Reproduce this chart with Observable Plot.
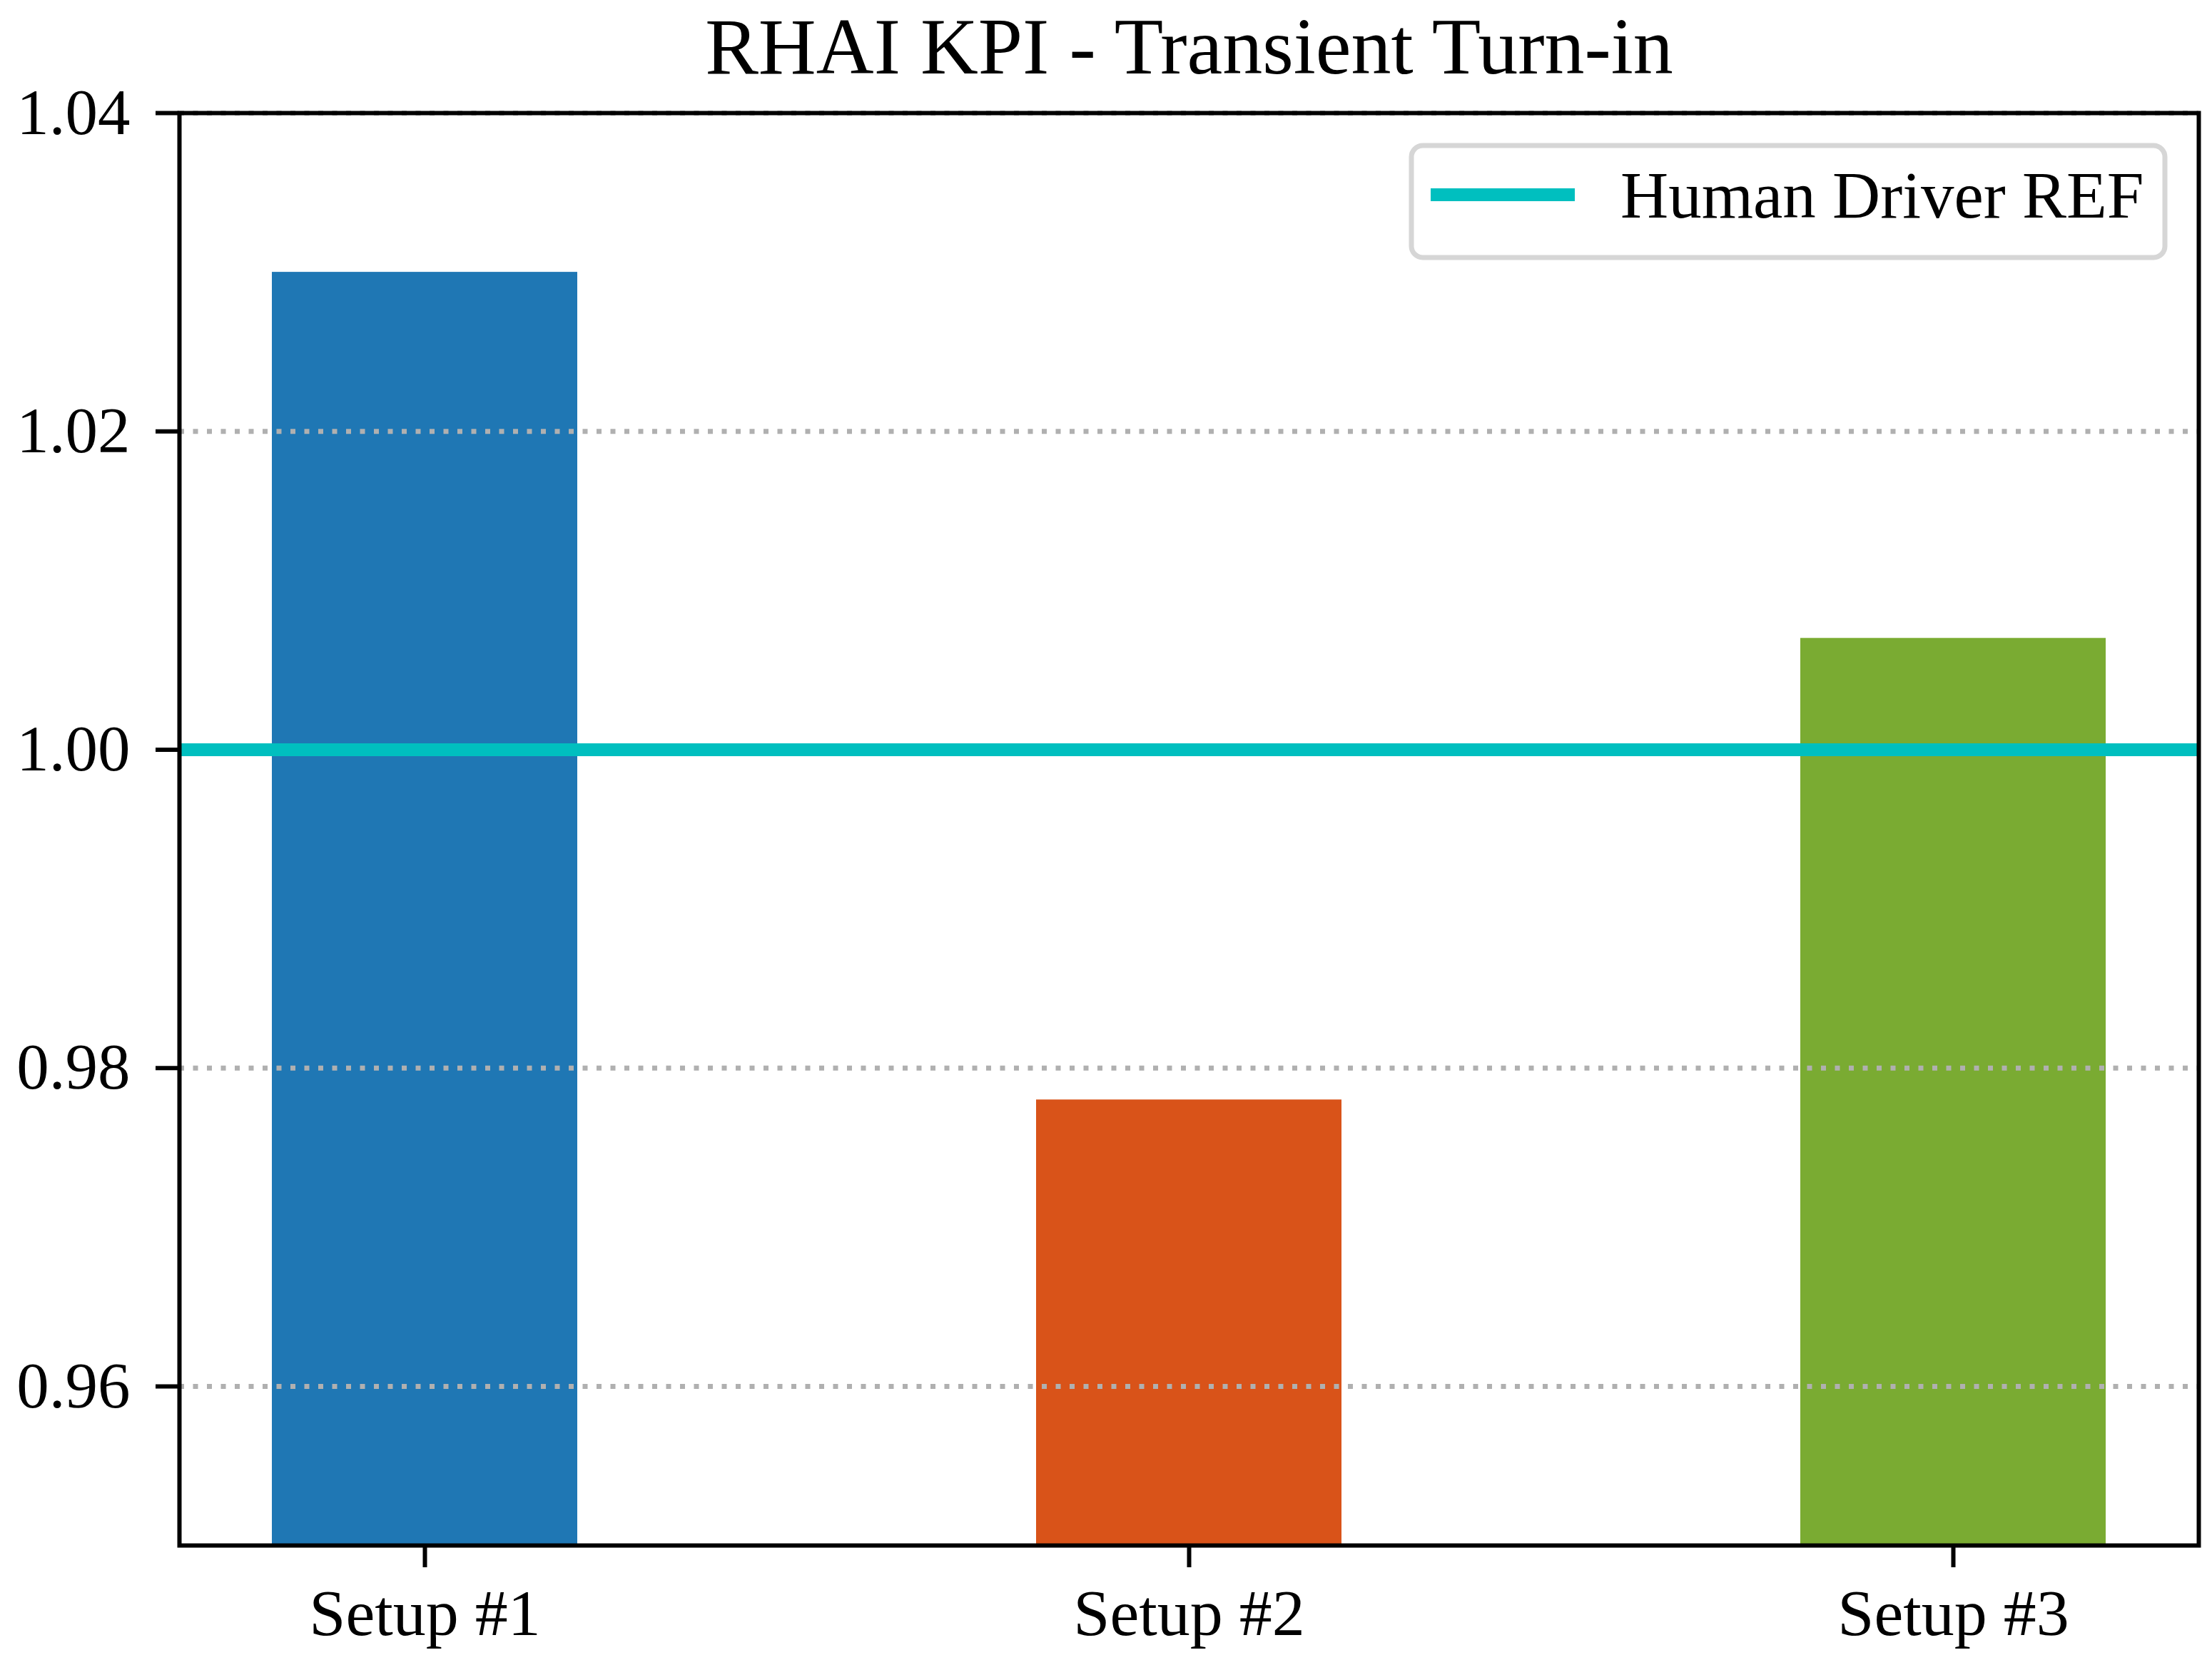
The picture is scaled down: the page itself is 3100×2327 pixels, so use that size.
<!DOCTYPE html>
<html>
<head>
<meta charset="utf-8">
<script src="https://cdn.jsdelivr.net/npm/d3@7"></script>
<script src="https://cdn.jsdelivr.net/npm/@observablehq/plot@0.6"></script>
<style>
  html, body { margin: 0; padding: 0; background: #ffffff; }
  #wrap { position: relative; width: 3100px; height: 2327px; font-family: "Liberation Serif", "Times New Roman", serif; }
  #legend { position: absolute; left: 0; top: 0; pointer-events: none; }
</style>
</head>
<body>
<div id="wrap"></div>
<script>
// ---- data ----
const categories = ["Setup #1", "Setup #2", "Setup #3"];
const values = [1.030, 0.978, 1.007];
const barColors = ["#1f77b4", "#d95319", "#7aab32"];
const refValue = 1.0;
const refLabel = "Human Driver REF";
const refColor = "#00bfbf";
const yTicks = [0.96, 0.98, 1.00, 1.02, 1.04];
const yDomain = [0.95, 1.04];
const titleText = "RHAI KPI - Transient Turn-in";

const data = categories.map((c, i) => ({setup: c, value: values[i]}));

const W = 3100, H = 2327;
const mL = 251, mR = 19, mT = 158, mB = 161;
const font = "Liberation Serif";

const chart = Plot.plot({
  width: W,
  height: H,
  marginLeft: mL,
  marginRight: mR,
  marginTop: mT,
  marginBottom: mB,
  style: {fontFamily: font, fontSize: "91px", color: "#000", background: "#fff"},
  x: {type: "band", domain: categories, paddingInner: 0.6, paddingOuter: 0.12, align: 0.5, label: null},
  y: {domain: yDomain, label: null},
  color: {domain: categories, range: barColors},
  marks: [
    Plot.barY(data, {x: "setup", y: "value", fill: "setup", clip: true}),
    Plot.gridY(yTicks, {stroke: "#b0b0b0", strokeOpacity: 1, strokeWidth: 7, strokeDasharray: "7,12.5"}),
    Plot.ruleY([refValue], {stroke: refColor, strokeWidth: 18}),
    Plot.frame({stroke: "#000", strokeWidth: 6}),
    Plot.axisY({ticks: yTicks, tickFormat: d3.format(".2f"), tickSize: 33, tickPadding: 36, strokeWidth: 6, fontSize: 91, label: null}),
    Plot.axisX({tickSize: 31, tickPadding: 29, strokeWidth: 6, fontSize: 92, label: null}),
    Plot.text([titleText], {text: d => d, frameAnchor: "top", dy: -56, lineAnchor: "bottom", fontSize: 112, fill: "#000"})
  ]
});

const wrap = document.getElementById("wrap");
wrap.appendChild(chart);

// ---- legend overlay ----
const ns = "http://www.w3.org/2000/svg";
const leg = d3.create("svg")
  .attr("id", "legend")
  .attr("width", W)
  .attr("height", H)
  .attr("xmlns", ns);
leg.append("rect")
  .attr("x", 1978).attr("y", 204)
  .attr("width", 3034 - 1978).attr("height", 361 - 204)
  .attr("rx", 16).attr("ry", 16)
  .attr("fill", "#ffffff").attr("stroke", "#d6d6d6").attr("stroke-width", 7);
leg.append("line")
  .attr("x1", 2005).attr("x2", 2207)
  .attr("y1", 273).attr("y2", 273)
  .attr("stroke", refColor).attr("stroke-width", 18);
leg.append("text")
  .attr("x", 2271).attr("y", 305)
  .attr("font-family", font).attr("font-size", 93)
  .attr("fill", "#000")
  .text(refLabel);
wrap.appendChild(leg.node());
</script>
</body>
</html>
